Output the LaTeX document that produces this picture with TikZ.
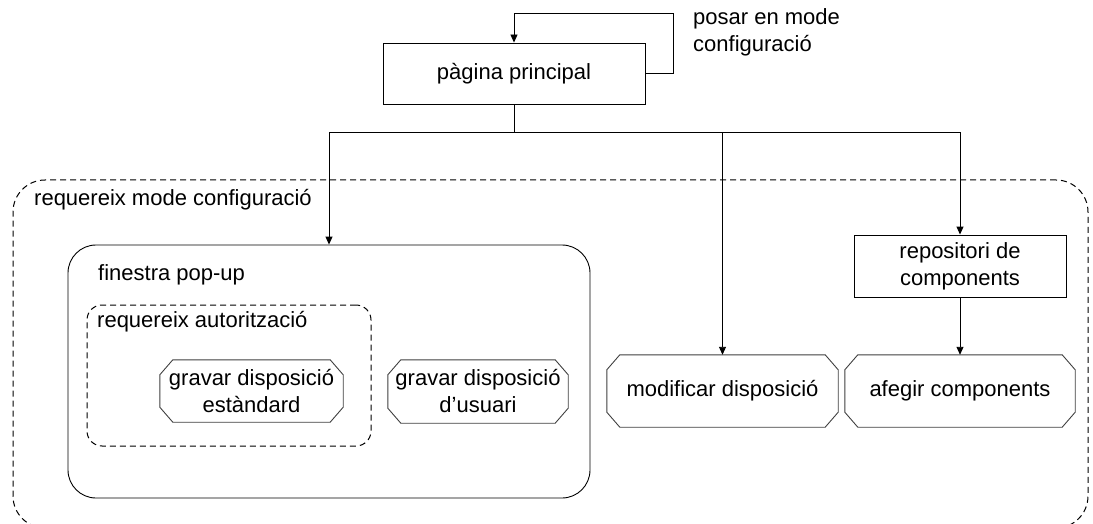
\documentclass[tikz,border=0pt]{standalone}
\usepackage{fontspec}
\setmainfont{Liberation Sans}
\usetikzlibrary{arrows.meta}
\begin{document}
\begin{tikzpicture}[x=1pt,y=-1pt,
  every node/.style={font=\fontsize{22}{27}\selectfont, inner sep=0pt},
  box/.style={draw, line width=0.9pt, rectangle, align=center},
  cont/.style={draw, line width=0.9pt, rectangle},
  dashbox/.style={draw, line width=1pt, rectangle, dash pattern=on 6pt off 4pt},
  octnode/.style={rectangle, align=center},
  octline/.style={draw=black!75, line width=0.9pt},
  lbl/.style={anchor=west, align=left},
  arr/.style={line width=0.9pt, -{Triangle[length=8pt,width=7pt]}},
  ln/.style={line width=0.9pt}]
\path[use as bounding box, clip] (0,0) rectangle (1093,524);
\fill[white] (0,0) rectangle (1093,524);

% containers
\node[dashbox, rounded corners=32pt, minimum width=1075pt, minimum height=348pt] (cfg) at (550.5,354) {};
\node[lbl] (cfglbl) at (34,200) {requereix mode configuració};
\node[cont, rounded corners=28pt, minimum width=522pt, minimum height=253pt] (fin) at (329,371.5) {};
\node[lbl] (finlbl) at (98,275) {finestra pop-up};
\node[dashbox, rounded corners=15pt, minimum width=284pt, minimum height=141pt] (aut) at (229,375.5) {};
\node[lbl] (autlbl) at (97,322) {requereix autorització};

% main nodes
\node[box, minimum width=262pt, minimum height=61pt] (main) at (514,73.5) {pàgina principal};
\node[lbl] (loopl) at (693,32) {posar en mode\\configuració};
\node[box, minimum width=212pt, minimum height=62pt] (rep) at (960,266) {repositori de\\components};

\node[octnode, minimum width=183pt, minimum height=62pt] (gds) at (251.5,391) {gravar disposició\\estàndard};
\node[octnode, minimum width=180pt, minimum height=63pt] (gdu) at (478,391.5) {gravar disposició\\d’usuari};
\node[octnode, minimum width=231pt, minimum height=72pt] (mod) at (722.5,391) {modificar disposició};
\node[octnode, minimum width=230pt, minimum height=72pt] (afe) at (960,391) {afegir components};

\foreach \n in {gds,gdu,mod,afe}{
  \draw[octline] ([xshift=13pt]\n.north west) -- ([xshift=-13pt]\n.north east)
    -- ([yshift=-15pt]\n.north east) -- ([yshift=15pt]\n.south east)
    -- ([xshift=-13pt]\n.south east) -- ([xshift=13pt]\n.south west)
    -- ([yshift=15pt]\n.south west) -- ([yshift=-15pt]\n.north west) -- cycle;
}

% connectors
\coordinate (lp1) at (673,73.5);
\coordinate (lp2) at (673,13);
\coordinate (lp3) at (514,13);
\draw[arr] (main.east) -- (lp1) -- (lp2) -- (lp3) -- (main.north);
\coordinate (j) at (514,132);
\draw[ln] (main.south) -- (j);
\draw[arr] (j) -| (fin.north);
\draw[arr] (j) -| (mod.north);
\draw[arr] (j) -| (rep.north);
\draw[arr] (rep.south) -- (afe.north);
\end{tikzpicture}
\end{document}
